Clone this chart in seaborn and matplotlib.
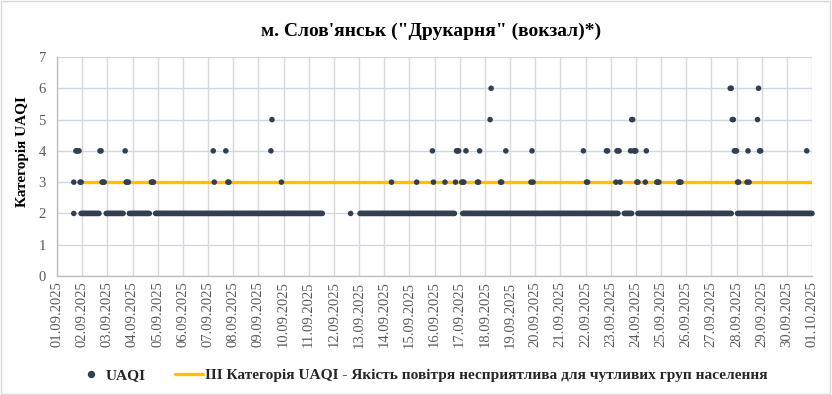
import pandas as pd
import matplotlib
matplotlib.use("Agg")
import matplotlib.pyplot as plt
import matplotlib.dates as mdates
from matplotlib.lines import Line2D
from matplotlib.patches import Rectangle
import seaborn as sns

first_day = "2025-09-01"

# Readings at category 2, one string per day (hours 00..23): '2' = reading, '-' = none
level2_codes = [
    "----------------2------2",  # 01.09
    "22222222222222222------2",  # 02.09
    "2222222222222222-----222",  # 03.09
    "22222222222222222-----22",  # 04.09
    "222222222222222222222222",  # 05.09
    "222222222222222222222222",  # 06.09
    "222222222222222222222222",  # 07.09
    "222222222222222222222222",  # 08.09
    "222222222222222222222222",  # 09.09
    "222222222222222222222222",  # 10.09
    "22222222222222----------",  # 11.09
    "----------------2-------",  # 12.09
    "-22222222222222222222222",  # 13.09
    "222222222222222222222222",  # 14.09
    "222222222222222222222222",  # 15.09
    "22222222222222222222----",  # 16.09
    "---222222222222222222222",  # 17.09
    "222222222222222222222222",  # 18.09
    "222222222222222222222222",  # 19.09
    "222222222222222222222222",  # 20.09
    "222222222222222222222222",  # 21.09
    "222222222222222222222222",  # 22.09
    "22222222-----22222222---",  # 23.09
    "--2222222222222222222222",  # 24.09
    "222222222222222222222222",  # 25.09
    "222222222222222222222222",  # 26.09
    "22222222222222222222----",  # 27.09
    "-22222222222222222222222",  # 28.09
    "222222222222222222222222",  # 29.09
    "222222222222222222222222",  # 30.09
    "2-----------------------",  # 01.10
]

# Readings above category 2, same layout: digit = category, '.' = none
elevated_codes = [
    "................3.444433",  # 01.09
    ".................44333..",  # 02.09
    ".................4333...",  # 03.09
    "..................333...",  # 04.09
    "........................",  # 05.09
    "........................",  # 06.09
    ".....43..........4.33...",  # 07.09
    "........................",  # 08.09
    "............45........3.",  # 09.09
    "........................",  # 10.09
    "........................",  # 11.09
    "........................",  # 12.09
    "........................",  # 13.09
    ".......3................",  # 14.09
    ".......3..............43",  # 15.09
    "..........3.........3444",  # 16.09
    "..333.4..........334....",  # 17.09
    ".....56........33...4...",  # 18.09
    "....................343.",  # 19.09
    "........................",  # 20.09
    "......................4.",  # 21.09
    ".33.................44..",  # 22.09
    ".....34443.........45544",  # 23.09
    "433......34.........333.",  # 24.09
    ".................333....",  # 25.09
    "........................",  # 26.09
    "..................665544",  # 27.09
    "433.......343.......5644",  # 28.09
    "........................",  # 29.09
    "...................4....",  # 30.09
    "........................",  # 01.10
]

# Threshold line: III category of UAQI
threshold_times = ["2025-09-01 22:00", "2025-10-01 00:00"]
threshold_values = [3, 3]
threshold_label = "III Категорія UAQI - Якість повітря несприятлива для чутливих груп населення"

title = "м. Слов'янськ (\"Друкарня\" (вокзал)*)"
y_label = "Категорія UAQI"

# Build the long table of readings
start = pd.Timestamp(first_day)
rows = []
for d, (low, high) in enumerate(zip(level2_codes, elevated_codes)):
    assert len(low) == 24 and len(high) == 24, d
    for h in range(24):
        t = start + pd.Timedelta(days=d, hours=h)
        if low[h] != "-":
            rows.append((t, int(low[h])))
        if high[h] != ".":
            rows.append((t, int(high[h])))
df = pd.DataFrame(rows, columns=["time", "UAQI"])
thr = pd.DataFrame({"time": pd.to_datetime(threshold_times), "value": threshold_values})

sns.set_theme(style="white")
plt.rcParams["font.family"] = ["Liberation Serif", "DejaVu Serif"]

dot_color = "#333f50"
line_color = "#ffc000"

fig, ax = plt.subplots(figsize=(8.32, 3.95), dpi=100)
fig.subplots_adjust(left=57 / 832, right=812 / 832, top=1 - 57 / 395, bottom=1 - 276 / 395)

sns.lineplot(data=thr, x="time", y="value", color=line_color, linewidth=2.4,
             ax=ax, legend=False, zorder=2)
sns.scatterplot(data=df, x="time", y="UAQI", color=dot_color, s=16,
                edgecolor="none", linewidth=0, ax=ax, legend=False,
                zorder=3, clip_on=False)

# Axes
ax.set_xlim(pd.Timestamp("2025-09-01"), pd.Timestamp("2025-10-01"))
ax.set_ylim(0, 7)
ax.set_yticks(range(0, 8))
ax.xaxis.set_major_locator(mdates.DayLocator())
ax.xaxis.set_major_formatter(mdates.DateFormatter("%d.%m.%Y"))
ax.tick_params(axis="x", labelrotation=90, labelsize=10.5, colors="#595959", length=0, pad=4)
ax.tick_params(axis="y", labelsize=10.5, colors="#595959", length=0, pad=8)
ax.set_xlabel("")
ax.set_ylabel(y_label, fontsize=11, fontweight="bold", color="black")
ax.yaxis.set_label_coords(-0.0375, 0.566)

# Grid like Excel
ax.grid(False)
ax.xaxis.grid(True, color="#d9d9d9", linewidth=1.0)
ax.yaxis.grid(True, color="#cfd7e6", linewidth=1.0)
ax.set_axisbelow(True)
for side in ["top", "right"]:
    ax.spines[side].set_visible(False)
for side in ["left", "bottom"]:
    ax.spines[side].set_color("#bfbfbf")
    ax.spines[side].set_linewidth(1.0)

fig.text(431 / 832, 1 - 31 / 395, title, ha="center", va="center",
         fontsize=14, fontweight="bold", color="black")

handles = [
    Line2D([], [], linestyle="none", marker="o", markersize=4.3,
           markerfacecolor=dot_color, markeredgecolor=dot_color),
    Line2D([], [], color=line_color, linewidth=2.4),
]
fig.legend(handles, ["UAQI", threshold_label], loc="center",
           bbox_to_anchor=(422 / 832, 1 - 375 / 395), ncol=2, frameon=False,
           prop={"weight": "bold", "size": 11.1}, handlelength=1.8,
           handletextpad=0.1, columnspacing=1.9)

fig.patches.append(Rectangle((0.001, 0.002), 0.997, 0.995, transform=fig.transFigure,
                             fill=False, edgecolor="#d9d9d9", linewidth=1.0))

plt.savefig("out.png", dpi=100)
